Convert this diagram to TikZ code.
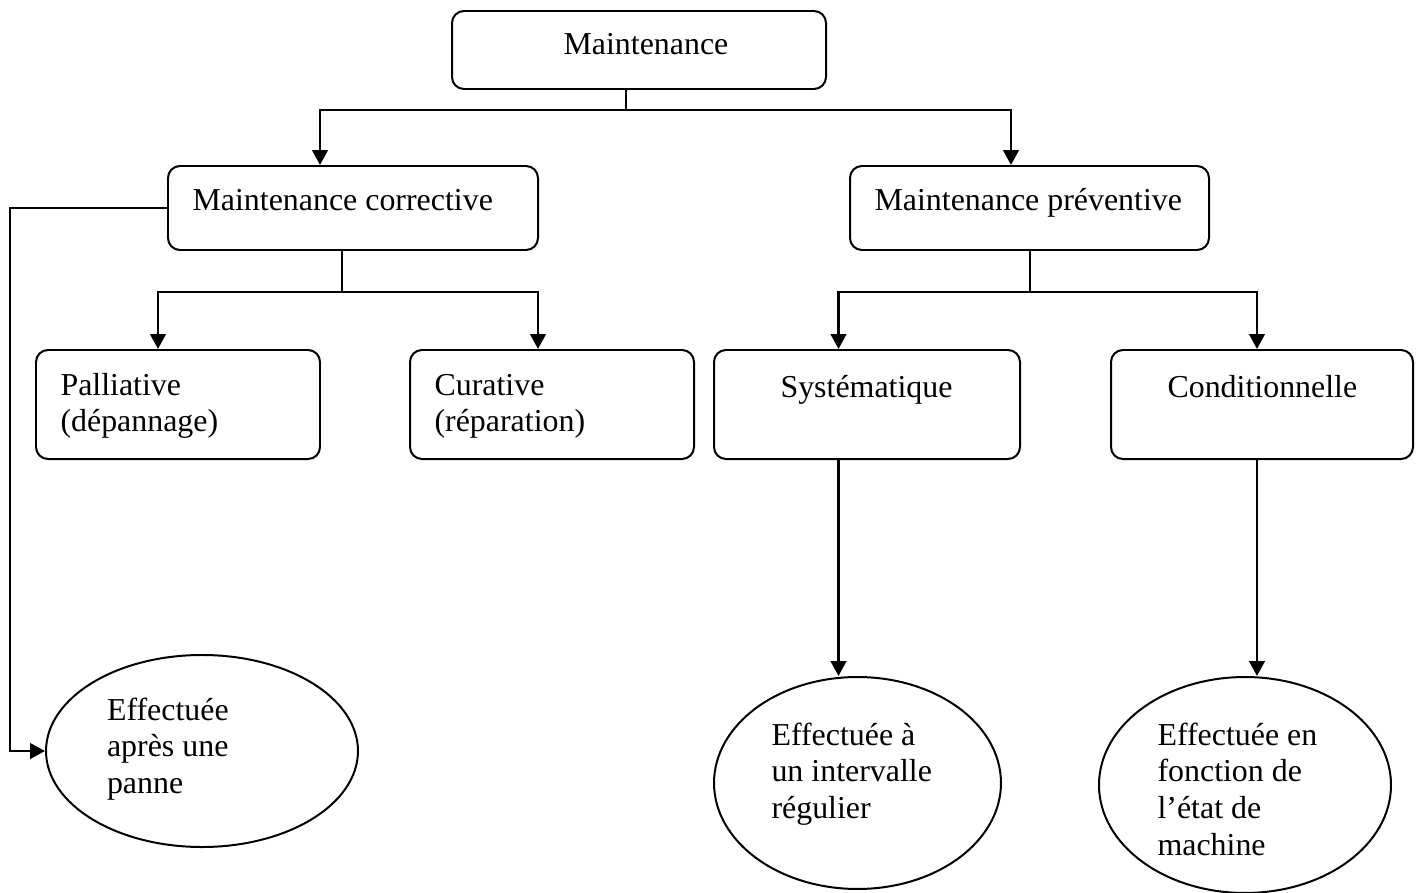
\documentclass[tikz,border=0pt]{standalone}
\usepackage{fontspec}
\setmainfont{Liberation Serif}
\usetikzlibrary{arrows.meta,shapes.geometric,fit}
\begin{document}
\begin{tikzpicture}[x=0.376pt,y=-0.376pt,
  box/.style={draw, rounded corners=4.5pt, line width=0.75pt, inner sep=0pt},
  oval/.style={draw, ellipse, line width=0.75pt, inner sep=0pt},
  txt/.style={anchor=base west, inner sep=0pt, font=\fontsize{12}{13.9}\selectfont},
  mtxt/.style={txt, text width=80pt, align=flush left},
  stem/.style={line width=0.75pt},
  arr/.style={line width=1pt, -{Triangle[length=5.6pt,width=5.8pt]}}]
\useasboundingbox (0,0) rectangle (1416,893);

% boxes
\node[box, fit={(452,11)(826,89)}] (m) {};
\node[txt] (mt) at (563,55) {Maintenance};
\node[box, fit={(168,166)(538,250)}] (c) {};
\node[txt] (ct) at (192,210) {Maintenance corrective};
\node[box, fit={(850,166)(1209,250)}] (p) {};
\node[txt] (pt) at (874,210) {Maintenance préventive};
\node[box, fit={(36,350)(320,459)}] (pal) {};
\node[mtxt] (palt) at (60,395) {Palliative\\(dépannage)};
\node[box, fit={(410,350)(694,459)}] (cur) {};
\node[mtxt] (curt) at (434,395) {Curative\\(réparation)};
\node[box, fit={(714,350)(1020,459)}] (sys) {};
\node[txt] (syst) at (780,397) {Systématique};
\node[box, fit={(1111,350)(1413,459)}] (con) {};
\node[txt] (cont) at (1167,397) {Conditionnelle};

% ellipses
\node[oval, minimum width=117.3pt, minimum height=72.2pt] (e1) at (202,751) {};
\node[mtxt] (e1t) at (106.5,720) {Effectuée\\après une\\panne};
\node[oval, minimum width=107.9pt, minimum height=79.7pt] (e2) at (857.5,783) {};
\node[mtxt] (e2t) at (771,745) {Effectuée à\\un intervalle\\régulier};
\node[oval, minimum width=109.8pt, minimum height=81.2pt] (e3) at (1245,785) {};
\node[mtxt] (e3t) at (1157,745) {Effectuée en\\fonction de\\l’état de\\machine};

% helper coordinates
\coordinate (j0) at (626,110);
\coordinate (xc) at (320,0);
\coordinate (xp) at (1011,0);
\coordinate (j1) at (342,292);
\coordinate (xpal) at (158,0);
\coordinate (xcur) at (538,0);
\coordinate (j2) at (1030,292);
\coordinate (xsys) at (838.5,0);
\coordinate (xcon) at (1257,0);
\coordinate (xl) at (10,0);

% connectors
\draw[stem] (m.south -| j0) -- (j0);
\draw[arr] (j0) -| (c.north -| xc);
\draw[arr] (j0) -| (p.north -| xp);

\draw[stem] (c.south -| j1) -- (j1);
\draw[arr] (j1) -| (pal.north -| xpal);
\draw[arr] (j1) -| (cur.north -| xcur);

\draw[stem] (p.south -| j2) -- (j2);
\draw[arr] (j2) -| (sys.north -| xsys);
\draw[arr] (j2) -| (con.north -| xcon);

\draw[arr] (c.west) -- (c.west -| xl) |- (e1.west);
\draw[arr] (sys.south -| xsys) -- (e2.north -| xsys);
\draw[arr] (con.south -| xcon) -- (e3.north -| xcon);
\end{tikzpicture}
\end{document}
